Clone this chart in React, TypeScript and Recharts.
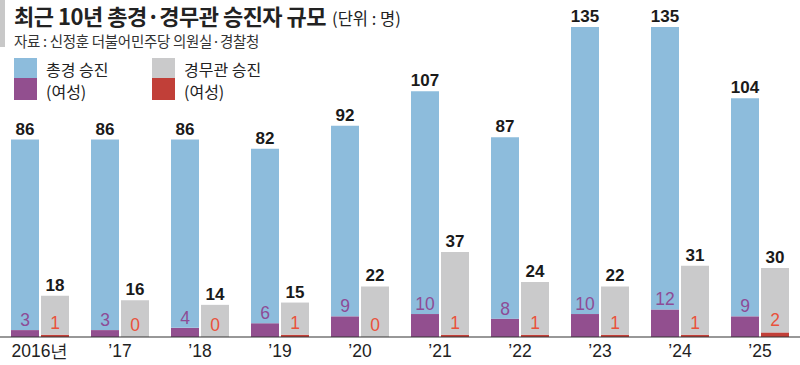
import React from 'react';
import { BarChart, Bar, XAxis, YAxis, LabelList } from 'recharts';

const years = ['2016년', '’17', '’18', '’19', '’20', '’21', '’22', '’23', '’24', '’25'];
const chonggyeongTotal = [86, 86, 86, 82, 92, 107, 87, 135, 135, 104];
const chonggyeongWomen = [3, 3, 4, 6, 9, 10, 8, 10, 12, 9];
const gyeongmugwanTotal = [18, 16, 14, 15, 22, 37, 24, 22, 31, 30];
const gyeongmugwanWomen = [1, 0, 0, 1, 0, 1, 1, 1, 1, 2];

const data = years.map((y, i) => ({
  year: y,
  cTotal: chonggyeongTotal[i],
  cWomen: chonggyeongWomen[i],
  cRest: chonggyeongTotal[i] - chonggyeongWomen[i],
  gTotal: gyeongmugwanTotal[i],
  gWomen: gyeongmugwanWomen[i],
  gRest: gyeongmugwanTotal[i] - gyeongmugwanWomen[i],
}));

const BLUE = '#8dbcdc';
const PURPLE = '#924f8f';
const GRAY = '#cacacb';
const RED = '#c13f38';
const PURPLE_TXT = '#8d4c96';
const RED_TXT = '#e9523c';

const NUM_FONT = '"Liberation Sans Narrow", "Liberation Sans", Arial, sans-serif';
const KR_FONT = '"Noto Sans CJK KR", "Noto Sans", sans-serif';

const Swatch = ({ color, h }: { color: string; h: number }) => (
  <div style={{ width: 23, height: h, background: color }} />
);

// label drawn just above the bottom edge of the upper segment (= top of the women segment)
const womenLabel = (color: string, gap: number) => (props: any) => {
  const { x, y, width, height, value } = props;
  const bx = Number(x) + Number(width) / 2;
  const by = Number(y) + Number(height) - gap;
  return (
    <text x={bx} y={by} textAnchor="middle" fill={color} fontSize={17.5} fontFamily={NUM_FONT}>
      {value}
    </text>
  );
};

export default function App() {
  return (
    <div style={{ position: 'absolute', left: 0, top: 0, width: 800, height: 365, background: '#fff', overflow: 'hidden' }}>
      <div style={{ position: 'absolute', left: 0, top: 0, width: 5, height: 47, background: '#c8c8c8' }} />
      <div style={{ position: 'absolute', left: 14, top: 3, whiteSpace: 'nowrap', fontFamily: KR_FONT, color: '#222', lineHeight: '25px' }}>
        <span style={{ fontSize: 22, fontWeight: 700, letterSpacing: -0.5 }}>최근 10년 총경·경무관 승진자 규모</span>
        <span style={{ fontSize: 16.5, marginLeft: 6 }}>(단위 : 명)</span>
      </div>
      <div style={{ position: 'absolute', left: 14, top: 32, whiteSpace: 'nowrap', fontFamily: KR_FONT, color: '#333', fontSize: 14.5, lineHeight: '18px', letterSpacing: -0.3 }}>
        자료 : 신정훈 더불어민주당 의원실·경찰청
      </div>
      <div style={{ position: 'absolute', left: 14, top: 58, display: 'flex', fontFamily: KR_FONT, color: '#222', fontSize: 16 }}>
        <div style={{ display: 'flex', flexDirection: 'column' }}>
          <Swatch color={BLUE} h={20} />
          <Swatch color={PURPLE} h={22} />
        </div>
        <div style={{ marginLeft: 9, lineHeight: '22px', width: 106 }}>
          <div>총경 승진</div>
          <div>(여성)</div>
        </div>
        <div style={{ display: 'flex', flexDirection: 'column' }}>
          <Swatch color={GRAY} h={20} />
          <Swatch color={RED} h={22} />
        </div>
        <div style={{ marginLeft: 9, lineHeight: '22px' }}>
          <div>경무관 승진</div>
          <div>(여성)</div>
        </div>
      </div>
      <div style={{ position: 'absolute', left: 0, top: 0 }}>
        <BarChart
          width={800}
          height={365}
          data={data}
          margin={{ top: 27, right: 0, bottom: 0, left: 0 }}
          barSize={28}
          barGap={2}
        >
          <YAxis hide domain={[0, 135]} />
          <XAxis
            dataKey="year"
            height={28}
            tickLine={false}
            axisLine={{ stroke: '#333', strokeWidth: 1.2 }}
            tick={{ fill: '#222', fontSize: 17.5, fontFamily: NUM_FONT }}
            tickMargin={2}
            interval={0}
          />
          <Bar dataKey="cWomen" stackId="a" fill={PURPLE} isAnimationActive={false} />
          <Bar dataKey="cRest" stackId="a" fill={BLUE} isAnimationActive={false}>
            <LabelList dataKey="cTotal" position="top" offset={5} fill="#1a1a1a" fontSize={17} fontWeight={700} fontFamily={NUM_FONT} />
            <LabelList dataKey="cWomen" content={womenLabel(PURPLE_TXT, 4)} />
          </Bar>
          <Bar dataKey="gWomen" stackId="b" fill={RED} isAnimationActive={false} />
          <Bar dataKey="gRest" stackId="b" fill={GRAY} isAnimationActive={false}>
            <LabelList dataKey="gTotal" position="top" offset={5} fill="#1a1a1a" fontSize={17} fontWeight={700} fontFamily={NUM_FONT} />
            <LabelList dataKey="gWomen" content={womenLabel(RED_TXT, 6)} />
          </Bar>
        </BarChart>
      </div>
    </div>
  );
}
